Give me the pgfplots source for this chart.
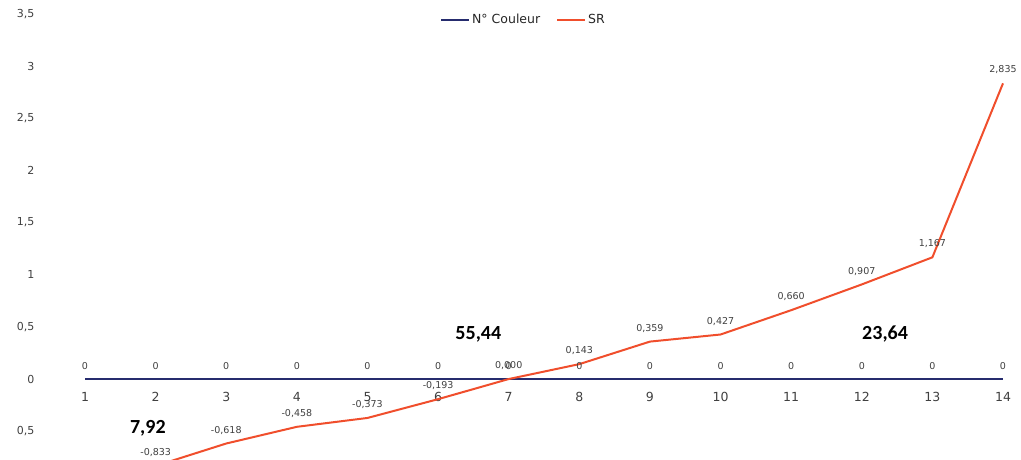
\documentclass[border=0pt]{standalone}
\usepackage{pgfplots}
\pgfplotsset{compat=1.18}
\usepackage{fontspec}
\setmainfont{DejaVu Sans}
\newfontfamily\bigfont{Carlito}
\definecolor{navy}{HTML}{262C6E}
\definecolor{srred}{HTML}{F04E2C}
\definecolor{lbl}{HTML}{404040}
\begin{document}
\begin{tikzpicture}[x=1pt,y=1pt]
\begin{axis}[
  scale only axis,
  width=1021pt, height=472.9pt,
  xmin=-0.204, xmax=14.255,
  ymin=-0.9, ymax=3.634,
  axis x line=middle, axis y line=left,
  x axis line style={draw=none},
  y axis line style={draw=none},
  major tick length=0pt,
  xtick={1,...,14},
  ytick={-0.5,0,0.5,1,1.5,2,2.5,3,3.5},
  yticklabels={{0,5},0,{0,5},1,{1,5},2,{2,5},3,{3,5}},
  /pgf/number format/assume math mode=true,
  x tick label style={font=\fontsize{12.5}{14}\selectfont, text=lbl, yshift=-10pt},
  y tick label style={font=\fontsize{11}{12}\selectfont, text=lbl, anchor=east, xshift=38pt},
  clip=true,
  nodes near coords align={anchor=south},
  legend columns=2,
  legend style={draw=none, fill=none, at={(0.5,1)}, anchor=north, yshift=-10pt, xshift=13pt,
    font=\fontsize{12.5}{14}\selectfont, text=black!85,
    /tikz/every even column/.append style={column sep=14pt}},
  legend image code/.code={\draw[#1] (0pt,0pt) -- (28pt,0pt);},
]
\addplot[navy, line width=2pt, mark=none,
  nodes near coords={0},
  every node near coord/.append style={font=\fontsize{9.5}{11}\selectfont, text=lbl, yshift=5pt}]
  coordinates {(1,0)(2,0)(3,0)(4,0)(5,0)(6,0)(7,0)(8,0)(9,0)(10,0)(11,0)(12,0)(13,0)(14,0)};
\addlegendentry{N° Couleur}
\addplot[srred, line width=2pt, mark=none,
  nodes near coords={\pgfmathprintnumber[fixed,fixed zerofill,precision=3,use comma,assume math mode=true]{\pgfplotspointmeta}},
  every node near coord/.append style={font=\fontsize{9.5}{11}\selectfont, text=lbl, yshift=5pt}]
  coordinates {(2,-0.833)(3,-0.618)(4,-0.458)(5,-0.373)(6,-0.193)(7,0.000)(8,0.143)(9,0.359)(10,0.427)(11,0.660)(12,0.907)(13,1.167)(14,2.835)};
\addlegendentry{SR}
\node[font=\bigfont\bfseries\fontsize{20}{22}\selectfont] at (axis cs:1.89,-0.47) {7,92};
\node[font=\bigfont\bfseries\fontsize{20}{22}\selectfont] at (axis cs:6.57,0.43) {55,44};
\node[font=\bigfont\bfseries\fontsize{20}{22}\selectfont] at (axis cs:12.33,0.43) {23,64};
\coordinate (bbsw) at (axis cs:-0.204,-0.767);
\end{axis}
\pgfresetboundingbox
\path[use as bounding box] (bbsw) rectangle (current axis.north east);
\end{tikzpicture}
\end{document}
